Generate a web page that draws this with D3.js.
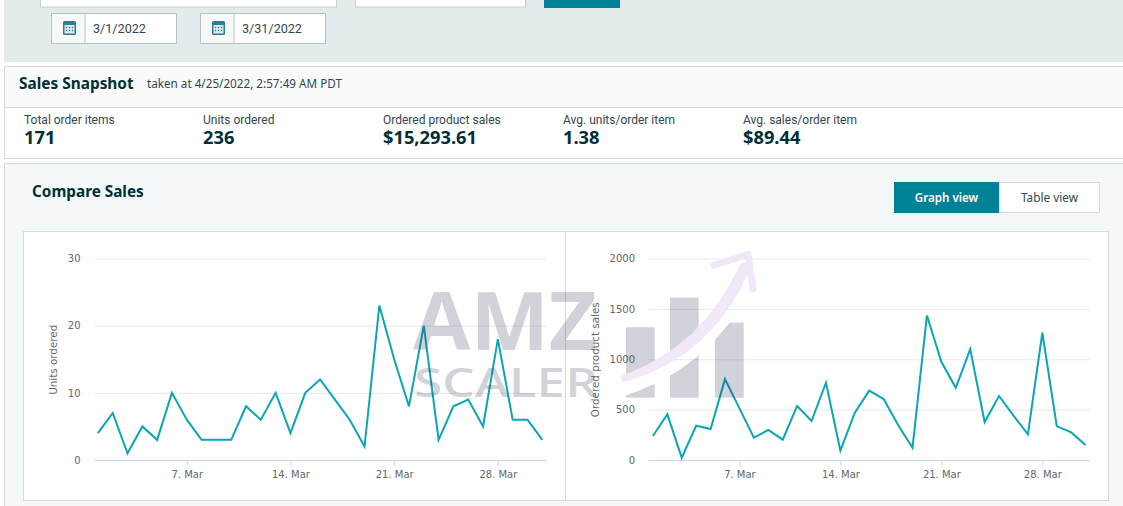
<!DOCTYPE html>
<html><head><meta charset="utf-8">
<script src="https://cdnjs.cloudflare.com/ajax/libs/d3/7.8.5/d3.min.js"></script>
<style>html,body{margin:0;padding:0;background:#fff;overflow:hidden}svg{display:block}</style>
</head><body><svg id="c" width="1123" height="506"></svg>
<script>
const days = [1,2,3,4,5,6,7,8,9,10,11,12,13,14,15,16,17,18,19,20,21,22,23,24,25,26,27,28,29,30,31];
const unitsOrdered = [4,7,1,5,3,10,6,3,3,3,8,6,10,4,10,12,9,6,2,23,15,8,20,3,8,9,5,18,6,6,3];
const productSales = [238,453,23,340,307,803,512,221,298,202,535,387,767,93,470,688,605,347,122,1435,975,717,1100,377,635,440,255,1263,337,274,149];
const tickDays = [7,14,21,28];
const unitTicks = [0,10,20,30];
const salesTicks = [0,500,1000,1500,2000];
const kpiLabels = ["Total order items","Units ordered","Ordered product sales","Avg. units/order item","Avg. sales/order item"];
const kpiValues = ["171","236","$15,293.61","1.38","$89.44"];
const dateLabels = ["3/1/2022","3/31/2022"];

const svg = d3.select("#c");
const UI = "'Noto Sans',sans-serif", RB = "Roboto,sans-serif", CH = "'DejaVu Sans',sans-serif", INK = "#002f36", TEAL = "#008296";
const rect = (p,x,y,w,h,f,s) => p.append("rect").attr("x",x).attr("y",y).attr("width",w).attr("height",h)
  .attr("fill",f).attr("stroke",s||"none").attr("stroke-width",s?1:0);
const text = (p,x,y,t,size,w,fill,font) => p.append("text").attr("x",x).attr("y",y).text(t)
  .attr("font-size",size).attr("font-weight",w||400).attr("fill",fill||INK).attr("font-family",font||UI);

/* filter band */
rect(svg,4,0,1119,62,"#e3ebec");
rect(svg,40.5,-10,296,17,"#fff","#c5cfd0");
rect(svg,355.5,-10,170,17,"#fff","#c5cfd0");
rect(svg,544,-10,76,18,TEAL);
[[51.5,85],[200.5,234]].forEach(([x0,xd],i)=>{
  rect(svg,x0,13.5,125,30,"#fff","#b5c2c4");
  rect(svg,x0+.5,14,xd-x0-.5,29,"#f7f9f9");
  svg.append("line").attr("x1",xd).attr("x2",xd).attr("y1",13.5).attr("y2",43.5).attr("stroke","#b5c2c4");
  const ic = svg.append("g").attr("transform",`translate(${x0+11.5},20)`);
  rect(ic,0,1,13,14,"#2a7f96").attr("rx",1.5);
  rect(ic,1.5,5,10,8.5,"#dfe9ec");
  ic.selectAll("circle").data([[3.5,7.5],[6.5,7.5],[9.5,7.5],[3.5,10.5],[6.5,10.5],[9.5,10.5]]).join("circle")
    .attr("cx",d=>d[0]).attr("cy",d=>d[1]).attr("r",.8).attr("fill","#2a7f96");
  text(svg,xd+8,32.5,dateLabels[i],12.6,400,"#33474d",RB);
});

/* snapshot */
rect(svg,4.5,66.5,1130,92,"#fff","#d5dbdb");
rect(svg,5,67,1130,40,"#fafafa");
svg.append("line").attr("x1",5).attr("x2",1123).attr("y1",107.5).attr("y2",107.5).attr("stroke","#d5dbdb");
text(svg,19,89,"Sales Snapshot",15.4,700);
text(svg,147,88,"taken at 4/25/2022, 2:57:49 AM PDT",11.7,400,"#33474d");
const kx = [24,203,383,563,743];
kpiLabels.forEach((l,i)=>{
  text(svg,kx[i],123.5,l,12,400,"#33474d",RB);
  text(svg,kx[i],144,kpiValues[i],18.3,700);
});

/* compare */
rect(svg,4.5,163.5,1130,350,"#f4f8f9","#d5dbdb");
text(svg,32,197,"Compare Sales",15.3,700);
rect(svg,894,182,105,31,TEAL);
rect(svg,999.5,182.5,100,30,"#fff","#d5dbdb");
text(svg,946.5,202,"Graph view",11.6,600,"#fff").attr("text-anchor","middle");
text(svg,1049.5,202,"Table view",11.8,400,"#33474d").attr("text-anchor","middle");
rect(svg,23.5,231.5,1085,269,"#fff","#d5dbdb");
svg.append("line").attr("x1",565.5).attr("x2",565.5).attr("y1",232).attr("y2",500).attr("stroke","#d5dbdb");

function chart(values,yTicks,yMax,xDomain,xRange,title,labelX,titleX){
  const x = d3.scaleLinear().domain(xDomain).range(xRange);
  const y = d3.scaleLinear().domain([0,yMax]).range([460,258.5]);
  const g = svg.append("g");
  const ya = g.append("g").attr("transform",`translate(${labelX},0)`)
    .call(d3.axisLeft(y).tickValues(yTicks).tickSize(0).tickPadding(0).tickFormat(d3.format("d")));
  ya.select(".domain").remove();
  ya.selectAll("text").attr("font-family",CH).attr("font-size",10).attr("fill","#666");
  g.append("g").selectAll("line").data(yTicks.filter(d=>d>0)).join("line")
    .attr("x1",xRange[0]).attr("x2",xRange[1]).attr("y1",d=>y(d)+.5).attr("y2",d=>y(d)+.5).attr("stroke","#e9e9ed");
  const xa = g.append("g").attr("transform","translate(0,460.5)")
    .call(d3.axisBottom(x).tickValues(tickDays).tickSize(5).tickPadding(5).tickFormat(d=>`${d}. Mar`));
  xa.select(".domain").attr("stroke","#ccd6eb").attr("d",`M${xRange[0]},0H${xRange[1]}`);
  xa.selectAll("line").attr("stroke","#ccd6eb");
  xa.selectAll("text").attr("font-family",CH).attr("font-size",10).attr("fill","#666");
  g.append("path").datum(values).attr("fill","none").attr("stroke","#0aa6b6").attr("stroke-width",2)
    .attr("stroke-linejoin","miter")
    .attr("d",d3.line().x((d,i)=>x(days[i])).y(d=>y(d)));
  text(g,0,0,title,10.35,400,"#666",CH).attr("text-anchor","middle")
    .attr("transform",`translate(${titleX},${y(yMax/2)+.5}) rotate(-90)`);
}
chart(unitsOrdered,unitTicks,30,[0.764,31.304],[94.4,546.8],"Units ordered",80.5,57);
chart(productSales,salesTicks,2000,[0.702,31.305],[648.6,1090],"Ordered product sales",635,599);

/* watermark overlay */
const wm = svg.append("g").attr("pointer-events","none");
const WMC = "rgba(50,50,85,0.22)";
const defs = svg.append("defs");
const mask = defs.append("mask").attr("id","m").attr("maskUnits","userSpaceOnUse").attr("x",600).attr("y",240).attr("width",180).attr("height",180);
rect(mask,600,240,180,180,"#fff");
mask.append("path").attr("d","M622,386 Q710,358 750,268").attr("fill","none").attr("stroke","#000").attr("stroke-width",20);
const bars = wm.append("g").attr("mask","url(#m)");
[[626,327.3],[670,297.7],[715,322.7]].forEach(([x,y])=>rect(bars,x,y,28.7,397.7-y,WMC));
wm.append("path").attr("d","M621,376.5 Q702,348 741,264 L752,262 Q716,356 623,382 Z").attr("fill","#f0e7f7").attr("fill-opacity",.9)
  .attr("stroke","#f0e7f7").attr("stroke-width",1).attr("stroke-linejoin","round");
wm.append("path").attr("d","M714,265 L748,254.5 L753,289").attr("fill","none").attr("stroke","#f0e7f7").attr("stroke-width",7).attr("stroke-linecap","round").attr("stroke-linejoin","round");
text(wm,413,350,"AMZ",80,700,WMC,"'Open Sans',sans-serif").attr("textLength",184).attr("lengthAdjust","spacingAndGlyphs");
text(wm,414,397,"SCALER",40,600,WMC,"'Open Sans',sans-serif").attr("textLength",184).attr("lengthAdjust","spacingAndGlyphs");
</script></body></html>
